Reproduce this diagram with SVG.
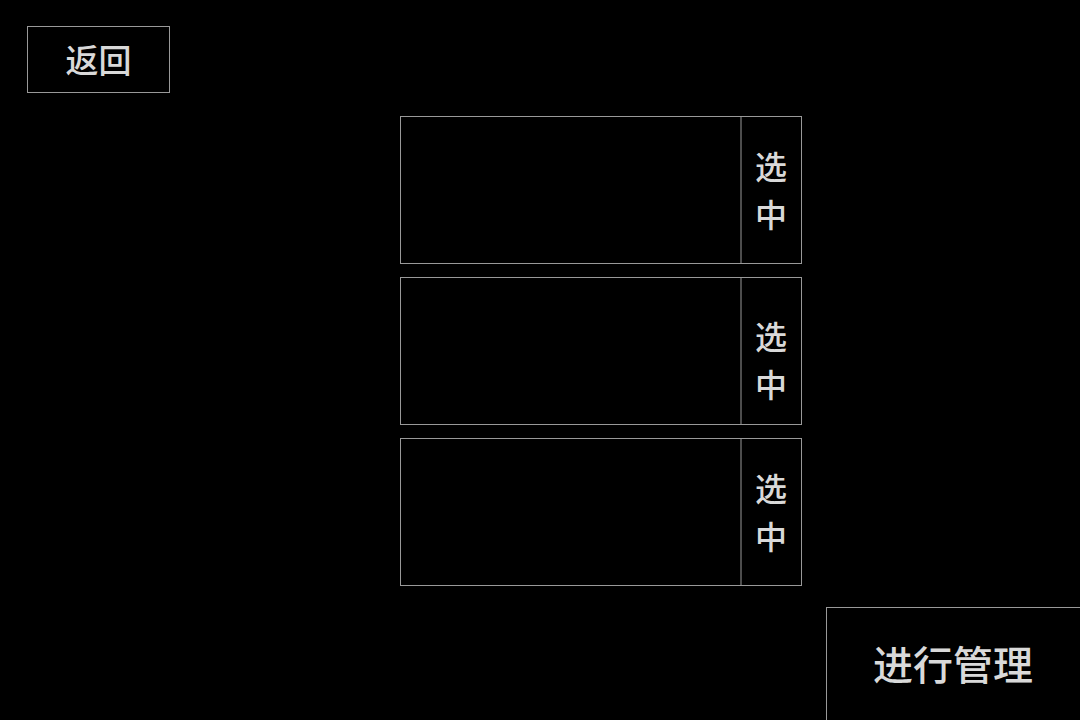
<svg xmlns="http://www.w3.org/2000/svg" width="1080" height="720" viewBox="0 0 1080 720">
<style>
.box{fill:#000;stroke:#999;stroke-width:1}
.t{fill:#d9d9d9;font-family:"Noto Sans CJK SC","Noto Sans",sans-serif;text-anchor:middle;font-weight:500}
</style>
<rect x="0" y="0" width="1080" height="720" fill="#000"/>
<g id="back">
<rect class="box" x="27.5" y="26.5" width="142" height="66"/>
<text class="t" x="98.5" y="73" font-size="33">返回</text>
</g>
<g id="row1">
<rect class="box" x="400.5" y="116.5" width="401" height="147"/>
<line x1="741" y1="116.5" x2="741" y2="263.5" stroke="#999"/>
<text class="t" x="771" y="179" font-size="32">选</text>
<text class="t" x="771" y="227" font-size="32">中</text>
</g>
<g id="row2">
<rect class="box" x="400.5" y="277.5" width="401" height="147"/>
<line x1="741" y1="277.5" x2="741" y2="424.5" stroke="#999"/>
<text class="t" x="771" y="349" font-size="32">选</text>
<text class="t" x="771" y="397" font-size="32">中</text>
</g>
<g id="row3">
<rect class="box" x="400.5" y="438.5" width="401" height="147"/>
<line x1="741" y1="438.5" x2="741" y2="585.5" stroke="#999"/>
<text class="t" x="771" y="501" font-size="32">选</text>
<text class="t" x="771" y="549" font-size="32">中</text>
</g>
<g id="manage">
<rect class="box" x="826.5" y="607.5" width="260" height="120"/>
<text class="t" x="953" y="680" font-size="40">进行管理</text>
</g>
<g id="connectors"></g>
</svg>
